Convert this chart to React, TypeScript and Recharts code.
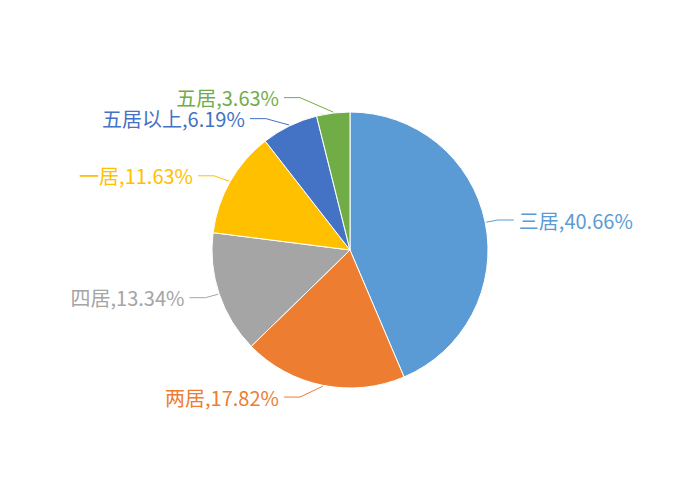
import { Cell, Pie, PieChart } from "recharts";

const names = ["三居", "两居", "四居", "一居", "五居以上", "五居"];
const shares = [40.66, 17.82, 13.34, 11.63, 6.19, 3.63];
const colors = ["#5B9BD5", "#ED7D31", "#A5A5A5", "#FFC000", "#4472C4", "#70AD47"];

const data = names.map((name, i) => ({ name, value: shares[i] }));

const RADIUS = 138;
const ELBOW = RADIUS + 12;
const MIN_GAP = 21;

// label y offsets, pushed apart where two labels on one side would collide
function labelOffsets() {
  const total = shares.reduce((a, b) => a + b, 0);
  let acc = 0;
  const items = shares.map((v, i) => {
    const mid = 90 - (360 * (acc + v / 2)) / total;
    acc += v;
    const rad = (mid * Math.PI) / 180;
    return { i, right: Math.cos(rad) >= 0, y: -ELBOW * Math.sin(rad) };
  });
  for (const right of [true, false]) {
    const side = items.filter((d) => d.right === right).sort((a, b) => a.y - b.y);
    for (let k = 1; k < side.length; k++) {
      const gap = side[k].y - side[k - 1].y;
      if (gap < MIN_GAP) {
        const push = (MIN_GAP - gap) / 2;
        side[k - 1].y -= push;
        side[k].y += push;
      }
    }
  }
  const out: number[] = [];
  items.forEach((d) => (out[d.i] = d.y));
  return out;
}

const offsets = labelOffsets();

function renderLabel(props: any) {
  const { cx, cy, midAngle, outerRadius, index } = props;
  const rad = (midAngle * Math.PI) / 180;
  const cos = Math.cos(rad);
  const sin = Math.sin(rad);
  const dir = cos >= 0 ? 1 : -1;
  const sx = cx + (outerRadius + 1) * cos;
  const sy = cy - (outerRadius + 1) * sin;
  const ex = cx + dir * Math.max(ELBOW * Math.pow(Math.abs(cos), 0.7), 50);
  const ey = cy + offsets[index];
  const hx = ex + dir * 16;
  const color = colors[index];
  return (
    <g>
      <polyline
        points={`${sx},${sy} ${ex},${ey} ${hx},${ey}`}
        fill="none"
        stroke={color}
        strokeWidth={1}
      />
      <text
        x={hx + dir * 5}
        y={ey}
        fill={color}
        textAnchor={dir > 0 ? "start" : "end"}
        dominantBaseline="central"
        fontSize={20}
      >
        {`${names[index]},${shares[index].toFixed(2)}%`}
      </text>
    </g>
  );
}

export default function App() {
  return (
    <div
      style={{
        position: "fixed",
        left: 0,
        top: 0,
        width: 700,
        height: 500,
        background: "#fff",
        fontFamily: '"Noto Sans CJK SC", "Noto Sans", sans-serif',
      }}
    >
      <PieChart
        width={700}
        height={500}
        margin={{ top: 0, right: 0, bottom: 0, left: 0 }}
      >
        <Pie
          data={data}
          dataKey="value"
          nameKey="name"
          cx={350}
          cy={250}
          outerRadius={RADIUS}
          startAngle={90}
          endAngle={-270}
          stroke="#fff"
          strokeWidth={1}
          label={renderLabel}
          labelLine={false}
          isAnimationActive={false}
        >
          {data.map((d, i) => (
            <Cell key={d.name} fill={colors[i]} />
          ))}
        </Pie>
      </PieChart>
    </div>
  );
}
